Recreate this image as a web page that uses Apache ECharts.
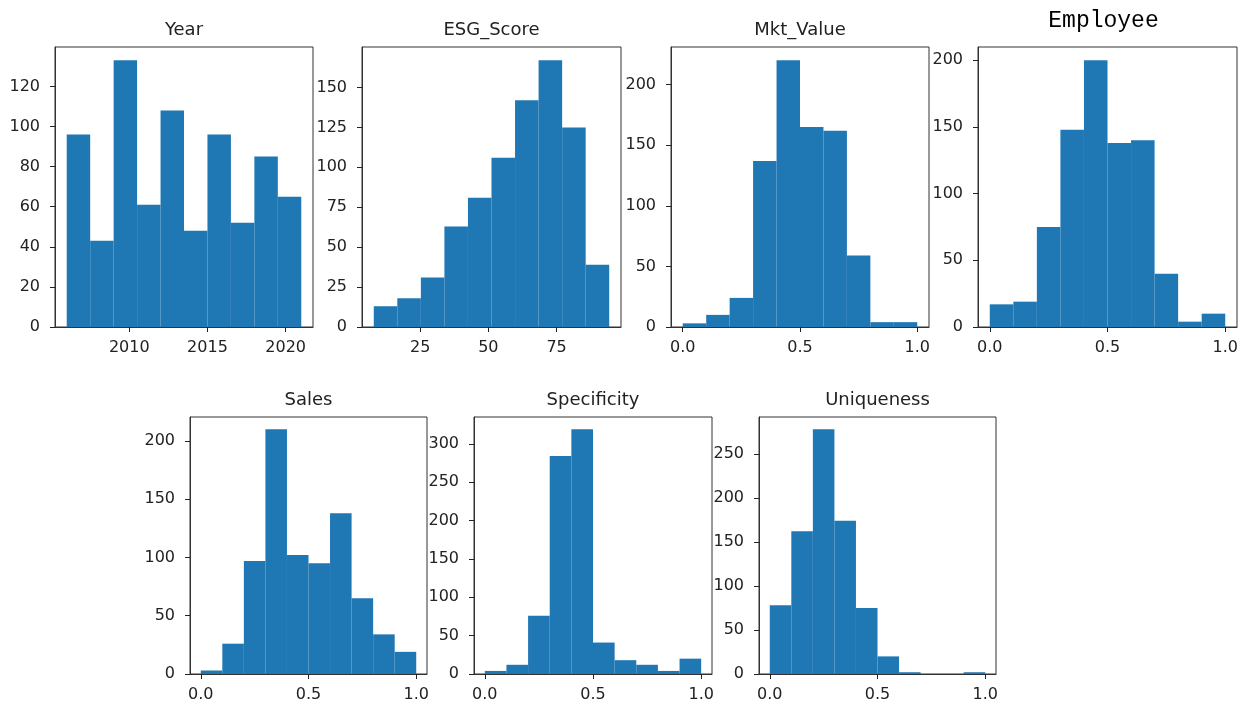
<!DOCTYPE html>
<html>
<head>
<meta charset="utf-8">
<title>Histograms</title>
<script src="https://cdn.jsdelivr.net/npm/echarts@6/dist/echarts.min.js"></script>
<style>
  html, body { margin: 0; padding: 0; background: #fff; }
  #chart { width: 1253px; height: 703px; }
</style>
</head>
<body>
<div id="chart"></div>
<script>
// bin edges (10 bins per variable)
const yearEdges = [2006, 2007.5, 2009, 2010.5, 2012, 2013.5, 2015, 2016.5, 2018, 2019.5, 2021];
const esgEdges = [8.0, 16.63, 25.26, 33.89, 42.52, 51.15, 59.78, 68.41, 77.04, 85.67, 94.3];
const unitEdges = [0, 0.1, 0.2, 0.3, 0.4, 0.5, 0.6, 0.7, 0.8, 0.9, 1.0];

// counts
const yearCounts = [96, 43, 133, 61, 108, 48, 96, 52, 85, 65];
const esgCounts = [13, 18, 31, 63, 81, 106, 142, 167, 125, 39];
const mktCounts = [3, 10, 24, 137, 220, 165, 162, 59, 4, 4];
const employeeCounts = [17, 19, 75, 148, 200, 138, 140, 40, 4, 10];
const salesCounts = [3, 26, 97, 210, 102, 95, 138, 65, 34, 19];
const specificityCounts = [4, 12, 76, 284, 319, 41, 18, 12, 4, 20];
const uniquenessCounts = [78, 162, 278, 174, 75, 20, 2, 0, 0, 2];

// tick values
const yearXTicks = [2010, 2015, 2020];
const yearYTicks = [0, 20, 40, 60, 80, 100, 120];
const esgXTicks = [25, 50, 75];
const esgYTicks = [0, 25, 50, 75, 100, 125, 150];
const unitXTicks = [0, 0.5, 1.0];
const y200Ticks = [0, 50, 100, 150, 200];
const specYTicks = [0, 50, 100, 150, 200, 250, 300];
const uniqYTicks = [0, 50, 100, 150, 200, 250];

const panels = [
  { name: 'Year', edges: yearEdges, counts: yearCounts, xTicks: yearXTicks, yTicks: yearYTicks, fmt: v => String(v),
    box: { left: 55, top: 47, width: 258, height: 280 } },
  { name: 'ESG_Score', edges: esgEdges, counts: esgCounts, xTicks: esgXTicks, yTicks: esgYTicks, fmt: v => String(v),
    box: { left: 362, top: 47, width: 259, height: 280 } },
  { name: 'Mkt_Value', edges: unitEdges, counts: mktCounts, xTicks: unitXTicks, yTicks: y200Ticks, fmt: v => v.toFixed(1),
    box: { left: 671, top: 47, width: 258, height: 280 } },
  { name: 'Employee', edges: unitEdges, counts: employeeCounts, xTicks: unitXTicks, yTicks: y200Ticks, fmt: v => v.toFixed(1),
    box: { left: 978, top: 47, width: 259, height: 280 }, serifTitle: true },
  { name: 'Sales', edges: unitEdges, counts: salesCounts, xTicks: unitXTicks, yTicks: y200Ticks, fmt: v => v.toFixed(1),
    box: { left: 190, top: 417, width: 237, height: 260 } },
  { name: 'Specificity', edges: unitEdges, counts: specificityCounts, xTicks: unitXTicks, yTicks: specYTicks, fmt: v => v.toFixed(1),
    box: { left: 474, top: 417, width: 238, height: 260 } },
  { name: 'Uniqueness', edges: unitEdges, counts: uniquenessCounts, xTicks: unitXTicks, yTicks: uniqYTicks, fmt: v => v.toFixed(1),
    box: { left: 759, top: 417, width: 237, height: 260 } }
];

const BAR = '#1f77b4';
const INK = '#222';
const EDGE = '#333';
const FONT = 'DejaVu Sans';

const grid = [], xAxis = [], yAxis = [], series = [], title = [];

panels.forEach((p, i) => {
  const lo = p.edges[0], hi = p.edges[p.edges.length - 1];
  const pad = (hi - lo) * 0.05;          // matplotlib default margin
  const ymax = Math.max(...p.counts) * 1.05;

  grid.push(Object.assign({ show: true, borderColor: EDGE, borderWidth: 1, containLabel: false }, p.box));

  const tick = vals => ({ show: true, inside: false, length: 5, lineStyle: { color: INK, width: 1 }, customValues: vals });

  xAxis.push({
    type: 'value', gridIndex: i, min: lo - pad, max: hi + pad, position: 'bottom',
    axisLine: { show: true, onZero: false, lineStyle: { color: EDGE, width: 1 } },
    splitLine: { show: false },
    axisTick: tick(p.xTicks),
    axisLabel: { customValues: p.xTicks, formatter: p.fmt, fontFamily: FONT, fontSize: 16, color: INK, margin: 13 }
  });
  yAxis.push({
    type: 'value', gridIndex: i, min: 0, max: ymax, position: 'left',
    axisLine: { show: true, onZero: false, lineStyle: { color: EDGE, width: 1 } },
    splitLine: { show: false },
    axisTick: tick(p.yTicks),
    axisLabel: { customValues: p.yTicks, fontFamily: FONT, fontSize: 16, color: INK, margin: 15 }
  });

  series.push({
    type: 'custom', name: p.name, xAxisIndex: i, yAxisIndex: i,
    data: p.counts.map((c, k) => [p.edges[k], p.edges[k + 1], c]),
    encode: { x: [0, 1], y: 2 },
    renderItem: (params, api) => {
      const a = api.coord([api.value(0), 0]);
      const b = api.coord([api.value(1), api.value(2)]);
      return {
        type: 'rect',
        shape: { x: a[0], y: b[1], width: b[0] - a[0], height: a[1] - b[1] },
        style: { fill: BAR }
      };
    }
  });

  const cx = p.box.left + p.box.width / 2;
  title.push(p.serifTitle
    ? { text: p.name, left: cx - 4, top: 9, textAlign: 'center', padding: 0,
        textStyle: { fontFamily: 'Liberation Mono', fontSize: 23, fontWeight: 'normal', color: '#000' } }
    : { text: p.name, left: cx, top: p.box.top - 26, textAlign: 'center', padding: 0,
        textStyle: { fontFamily: FONT, fontSize: 18, fontWeight: 'normal', color: INK } });
});

const chart = echarts.init(document.getElementById('chart'), null, { renderer: 'canvas' });
chart.setOption({
  backgroundColor: '#fff',
  animation: false,
  title, grid, xAxis, yAxis, series
});
window.addEventListener('resize', () => chart.resize());
</script>
</body>
</html>
